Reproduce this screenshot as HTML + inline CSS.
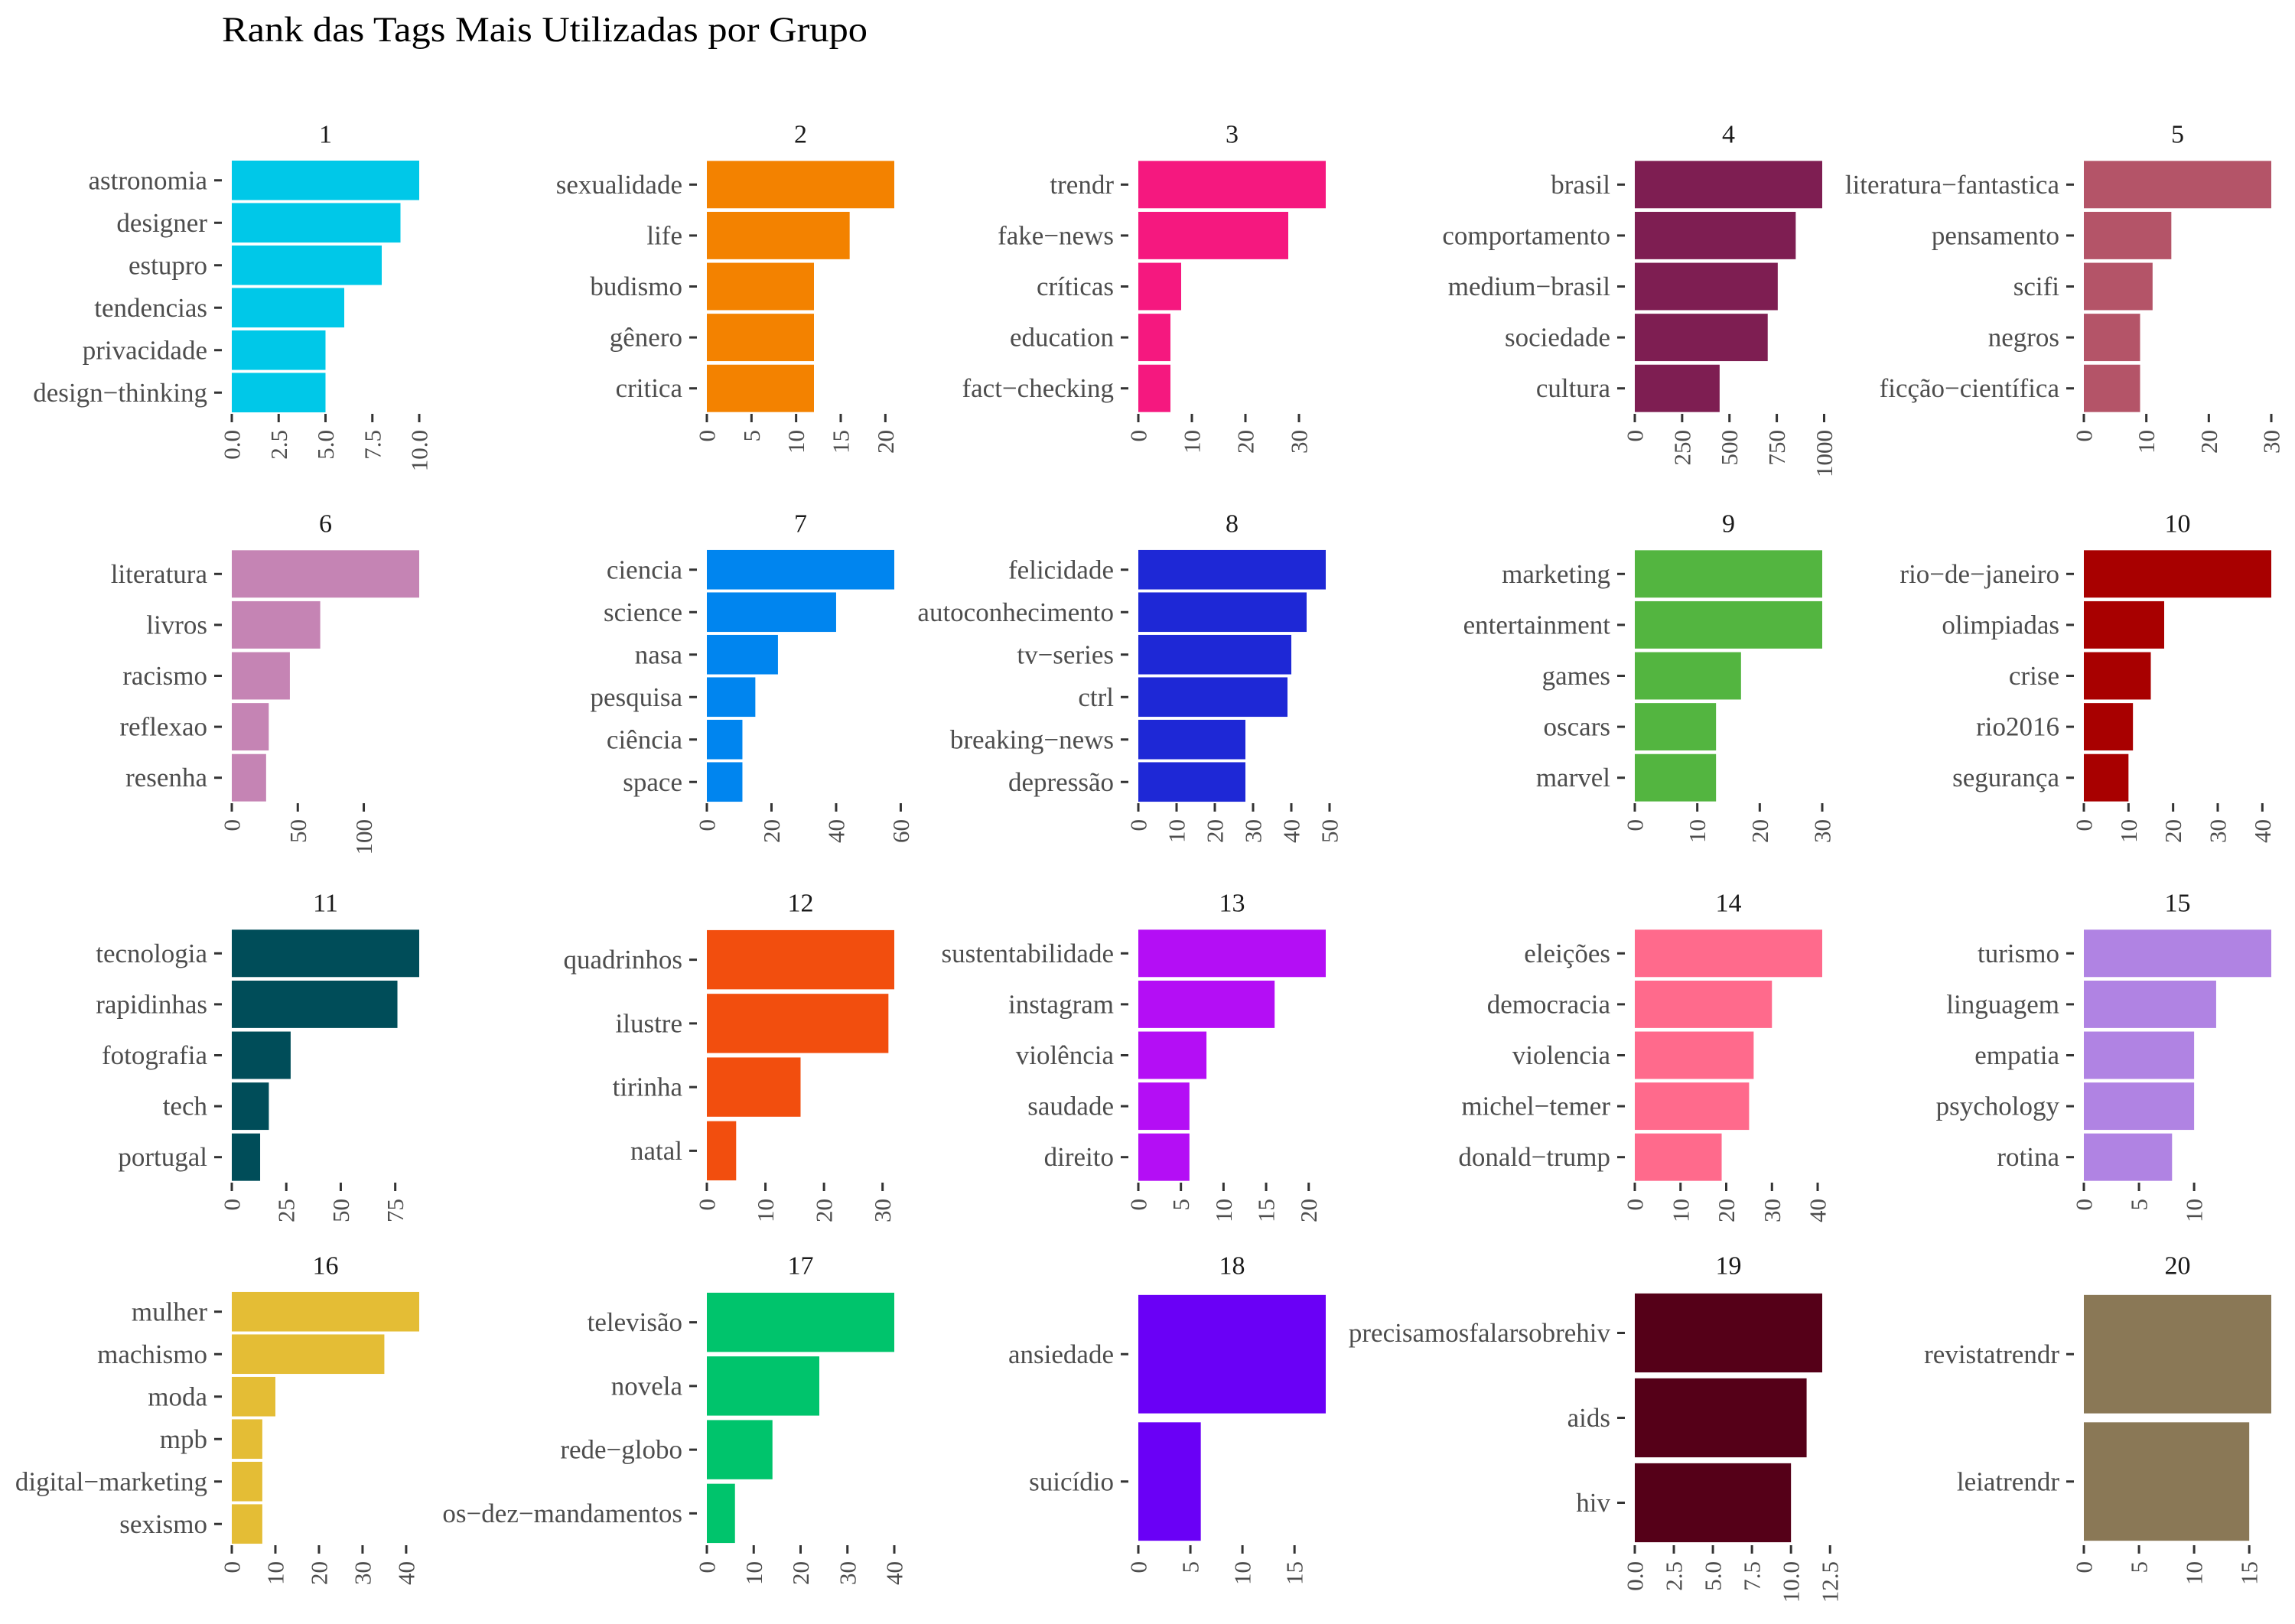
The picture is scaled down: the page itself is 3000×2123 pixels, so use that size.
<!DOCTYPE html>
<html><head><meta charset="utf-8"><style>
html,body{margin:0;padding:0;background:#fff;}
svg{display:block;}
text{font-family:"Liberation Serif","DejaVu Serif",serif;}
</style></head><body>
<svg id="chart" width="3000" height="2123" viewBox="0 0 3000 2123" xmlns="http://www.w3.org/2000/svg">
<text x="290" y="54" font-size="47" fill="#000" textLength="844" lengthAdjust="spacingAndGlyphs">Rank das Tags Mais Utilizadas por Grupo</text>
<g id="panels"></g>
</svg>
<script>
const groupIds = ["1","2","3","4","5","6","7","8","9","10","11","12","13","14","15","16","17","18","19","20"];
const tagNames = [
 ["astronomia","designer","estupro","tendencias","privacidade","design\u2212thinking"],
 ["sexualidade","life","budismo","gênero","critica"],
 ["trendr","fake\u2212news","críticas","education","fact\u2212checking"],
 ["brasil","comportamento","medium\u2212brasil","sociedade","cultura"],
 ["literatura\u2212fantastica","pensamento","scifi","negros","ficção\u2212científica"],
 ["literatura","livros","racismo","reflexao","resenha"],
 ["ciencia","science","nasa","pesquisa","ciência","space"],
 ["felicidade","autoconhecimento","tv\u2212series","ctrl","breaking\u2212news","depressão"],
 ["marketing","entertainment","games","oscars","marvel"],
 ["rio\u2212de\u2212janeiro","olimpiadas","crise","rio2016","segurança"],
 ["tecnologia","rapidinhas","fotografia","tech","portugal"],
 ["quadrinhos","ilustre","tirinha","natal"],
 ["sustentabilidade","instagram","violência","saudade","direito"],
 ["eleições","democracia","violencia","michel\u2212temer","donald\u2212trump"],
 ["turismo","linguagem","empatia","psychology","rotina"],
 ["mulher","machismo","moda","mpb","digital\u2212marketing","sexismo"],
 ["televisão","novela","rede\u2212globo","os\u2212dez\u2212mandamentos"],
 ["ansiedade","suicídio"],
 ["precisamosfalarsobrehiv","aids","hiv"],
 ["revistatrendr","leiatrendr"]
];
const tagCounts = [
 [10,9,8,6,5,5],
 [21,16,12,12,12],
 [35,28,8,6,6],
 [990,850,755,702,448],
 [30,14,11,9,9],
 [142,67,44,28,26],
 [58,40,22,15,11,11],
 [49,44,40,39,28,28],
 [30,30,17,13,13],
 [42,18,15,11,10],
 [86,76,27,17,13],
 [32,31,16,5],
 [22,16,8,6,6],
 [41,30,26,25,19],
 [17,12,10,10,8],
 [43,35,10,7,7,7],
 [40,24,14,6],
 [18,6],
 [12,11,10],
 [17,15]
];
const tickValues = [
 [0,2.5,5,7.5,10],[0,5,10,15,20],[0,10,20,30],[0,250,500,750,1000],[0,10,20,30],
 [0,50,100],[0,20,40,60],[0,10,20,30,40,50],[0,10,20,30],[0,10,20,30,40],
 [0,25,50,75],[0,10,20,30],[0,5,10,15,20],[0,10,20,30,40],[0,5,10],
 [0,10,20,30,40],[0,10,20,30,40],[0,5,10,15],[0,2.5,5,7.5,10,12.5],[0,5,10,15]
];
const tickDecimals = [1,0,0,0,0,0,0,0,0,0,0,0,0,0,0,0,0,0,1,0];
const barColors = ["#00C8E8","#F38200","#F5187F","#7E1E52","#B45468","#C584B4","#0085EF","#1E28D6","#53B540","#A80000",
 "#004D59","#F24E0E","#B40EF5","#FF6A8C","#B083E3","#E4BD35","#00C46C","#6A00F6","#550018","#8A7856"];

const colX0 = [303,924,1488,2137,2724];
const panelW = 245;
const rowTop = [208,717,1213,1687];
const panelH = 333;
const NS = "http://www.w3.org/2000/svg";
const root = document.getElementById("panels");
function mk(tag, attrs, parent){const e=document.createElementNS(NS,tag);for(const k in attrs)e.setAttribute(k,attrs[k]);parent.appendChild(e);return e;}

groupIds.forEach((gid,i)=>{
  const col=i%5,row=Math.floor(i/5);
  const x0=colX0[col], top=rowTop[row], bottom=top+panelH;
  const vals=tagCounts[i], names=tagNames[i];
  const vmax=Math.max(...vals);
  const xs=v=>x0+v/vmax*panelW;
  const g=mk("g",{},root);
  
  
  const st=mk("text",{x:x0+panelW/2,y:top-32,"font-size":34,fill:"#1a1a1a","text-anchor":"middle","dominant-baseline":"central"},g);
  st.textContent=gid;
  
  
  const n=vals.length, band=panelH/n, bh=band*0.93;
  vals.forEach((v,j)=>{
    const yc=top+band*(j+0.5);
    const r=mk("rect",{x:x0,y:yc-bh/2,width:xs(v)-x0,height:bh,fill:barColors[i]},g);
    
    
    const tk=mk("line",{x1:x0-23,x2:x0-13,y1:yc,y2:yc,stroke:"#333","stroke-width":3},g);
    
    
    const lb=mk("text",{x:x0-32,y:yc,"font-size":35,fill:"#4d4d4d","text-anchor":"end","dominant-baseline":"central"},g);
    lb.textContent=names[j];
    
    
  });
  tickValues[i].forEach(t=>{
    const x=xs(t);
    const tl=mk("line",{x1:x,x2:x,y1:bottom,y2:bottom+11,stroke:"#333","stroke-width":3},g);
    
    
    const ty=bottom+21;
    const tt=mk("text",{x:x,y:ty,"font-size":31,fill:"#4d4d4d","text-anchor":"end","dominant-baseline":"central",transform:"rotate(-90 "+x+" "+ty+")"},g);
    tt.textContent=t.toFixed(tickDecimals[i]);
    
    
  });
});
</script>
</body></html>
